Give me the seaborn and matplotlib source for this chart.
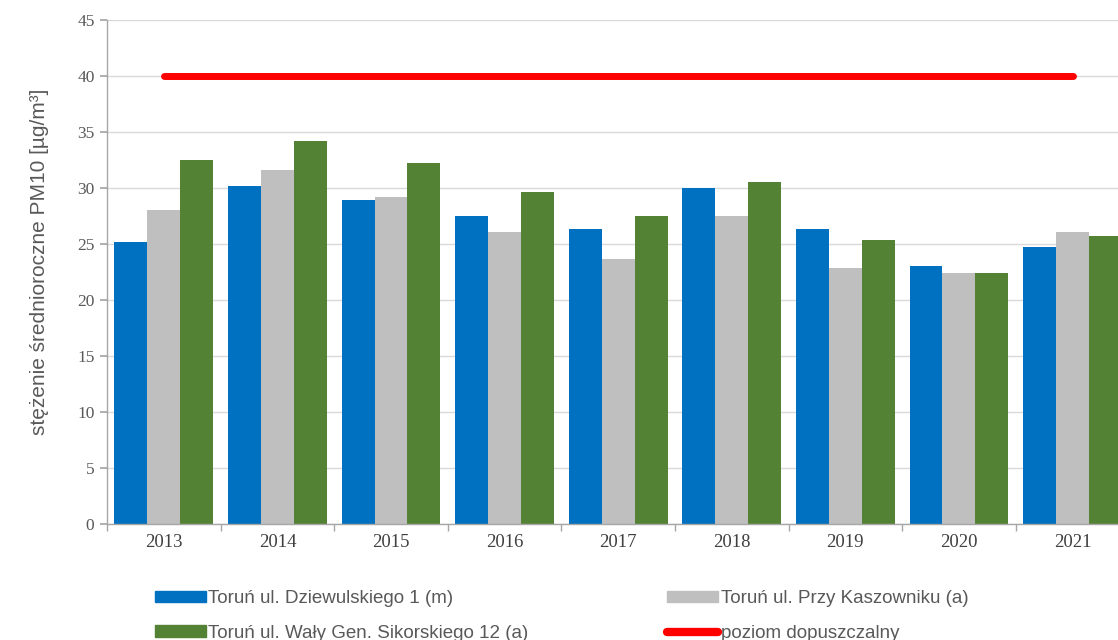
import numpy as np
import pandas as pd
import seaborn as sns
import matplotlib.pyplot as plt
from matplotlib.patches import Patch
from matplotlib.lines import Line2D

years = ["2013", "2014", "2015", "2016", "2017", "2018", "2019", "2020", "2021"]
stations = ["Toruń ul. Dziewulskiego 1 (m)",
            "Toruń ul. Przy Kaszowniku (a)",
            "Toruń ul. Wały Gen. Sikorskiego 12 (a)"]
dziewulskiego = [25.2, 30.2, 28.9, 27.5, 26.3, 30.0, 26.3, 23.0, 24.7]
kaszownik = [28.0, 31.6, 29.2, 26.1, 23.7, 27.5, 22.9, 22.4, 26.1]
sikorskiego = [32.5, 34.2, 32.2, 29.6, 27.5, 30.5, 25.4, 22.4, 25.7]
limit = 40
limit_label = "poziom dopuszczalny"

colors = ["#0070C0", "#BFBFBF", "#548235"]
red = "#FF0000"
gray_txt = "#595959"

df = pd.DataFrame({
    "rok": years * 3,
    "stacja": [stations[0]] * 9 + [stations[1]] * 9 + [stations[2]] * 9,
    "stezenie": dziewulskiego + kaszownik + sikorskiego,
})

sns.set_theme(style="white")
plt.rcParams["font.family"] = ["Liberation Sans", "DejaVu Sans"]

fig = plt.figure(figsize=(11.18, 6.4), dpi=100)
ax = fig.add_axes([107 / 1118, 1 - 524 / 640, 1 - 107 / 1118, (524 - 20) / 640])

sns.barplot(data=df, x="rok", y="stezenie", hue="stacja", palette=colors,
            width=0.87, saturation=1, linewidth=0, ax=ax, legend=False, zorder=2)

ax.hlines(limit, 0, len(years) - 1, color=red, lw=5, capstyle="round", zorder=3)

ax.set_yticks(range(0, 50, 5))
ax.yaxis.grid(True, color="#D9D9D9", lw=1, zorder=0)
ax.set_axisbelow(True)
for s in ["top", "right"]:
    ax.spines[s].set_visible(False)
for s in ["left", "bottom"]:
    ax.spines[s].set_color("#A6A6A6")
    ax.spines[s].set_linewidth(1)

ax.tick_params(axis="y", colors=gray_txt, length=5, direction="out",
               left=True, color="#A6A6A6", pad=4)
ax.set_yticklabels([str(v) for v in range(0, 50, 5)], fontsize=12.5,
                   color=gray_txt, family="Liberation Serif")
ax.tick_params(axis="x", length=0, pad=7)
ax.set_xticks(range(len(years)))
ax.set_xticklabels(years, fontsize=13.5, color="#404040", family="Liberation Serif")
ax.set_xticks(np.arange(-0.5, len(years), 1), minor=True)
ax.tick_params(axis="x", which="minor", length=5, color="#A6A6A6", bottom=True)

# limits after the ticks, otherwise set_xticks widens them again
ax.set_xlim(-0.5, 8.4)
ax.set_ylim(0, 45)

ax.set_xlabel("")
ax.set_ylabel("stężenie średnioroczne PM10 [µg/m³]", fontsize=15, color=gray_txt)
ax.yaxis.set_label_coords(-0.057, 0.52)

handles = [Patch(color=colors[0], label=stations[0]),
           Patch(color=colors[2], label=stations[2]),
           Patch(color=colors[1], label=stations[1]),
           Line2D([0], [0], color=red, lw=6, solid_capstyle="round", label=limit_label)]
leg = fig.legend(handles=handles, ncol=2, loc="upper left", bbox_to_anchor=(138 / 1118, 1 - 573 / 640),
                 frameon=False, fontsize=13.5, handlelength=2.7, handleheight=0.55,
                 handletextpad=0.15, columnspacing=7.4, labelspacing=0.95)
for t in leg.get_texts():
    t.set_color(gray_txt)

fig.savefig("out.png", dpi=100)
